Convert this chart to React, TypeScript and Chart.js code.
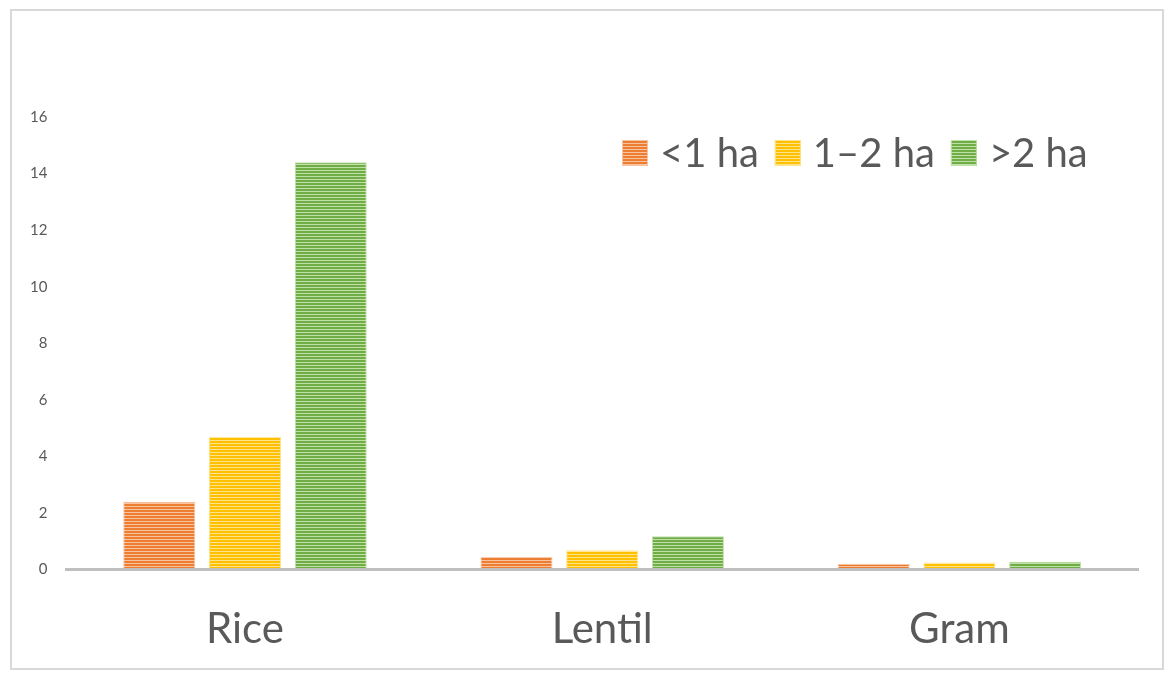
import React, { useEffect, useRef } from "react";
import { Chart, registerables } from "chart.js";

Chart.register(...registerables);

const categories = ["Rice", "Lentil", "Gram"];
const seriesNames = ["<1 ha", "1\u20132 ha", ">2 ha"];
const under1 = [2.4, 0.45, 0.2];
const oneToTwo = [4.7, 0.68, 0.25];
const over2 = [14.4, 1.18, 0.28];
const yTicks = [0, 2, 4, 6, 8, 10, 12, 14, 16];

const darkColors = ["#ED7D31", "#FFC000", "#70AD47"];
const lightColors = ["#F8C3A0", "#FFE38A", "#BFE0A6"];

function makePattern(dark: string, light: string): CanvasPattern | string {
  const c = document.createElement("canvas");
  c.width = 4;
  c.height = 3;
  const ctx = c.getContext("2d");
  if (!ctx) return dark;
  ctx.fillStyle = dark;
  ctx.fillRect(0, 0, 4, 2);
  ctx.fillStyle = light;
  ctx.fillRect(0, 2, 4, 1);
  return ctx.createPattern(c, "repeat") || dark;
}

const FONT = "Lato, 'Open Sans', 'DejaVu Sans', sans-serif";

export default function App() {
  const ref = useRef<HTMLCanvasElement | null>(null);

  useEffect(() => {
    if (!ref.current) return;
    const patterns = darkColors.map((d, i) => makePattern(d, lightColors[i]));
    const values = [under1, oneToTwo, over2];

    const legendPlugin = {
      id: "customLegend",
      afterDraw(chart: any) {
        const ctx = chart.ctx;
        ctx.save();
        ctx.font = `40px ${FONT}`;
        ctx.textBaseline = "middle";
        ctx.textAlign = "left";
        const cy = 153;
        let x = 622;
        const box = 26;
        chart.data.datasets.forEach((ds: any, i: number) => {
          ctx.fillStyle = patterns[i];
          ctx.fillRect(x, cy - box / 2, box, box);
          ctx.strokeStyle = lightColors[i];
          ctx.lineWidth = 1;
          ctx.strokeRect(x + 0.5, cy - box / 2 + 0.5, box - 1, box - 1);
          x += box + 12;
          ctx.fillStyle = "#595959";
          ctx.fillText(ds.label, x, cy + 1);
          x += ctx.measureText(ds.label).width + 16;
        });
        ctx.restore();
      },
    };

    const chart = new Chart(ref.current, {
      type: "bar",
      data: {
        labels: categories,
        datasets: seriesNames.map((name, i) => ({
          label: name,
          data: values[i],
          backgroundColor: patterns[i] as any,
          borderColor: lightColors[i],
          borderWidth: 1,
          categoryPercentage: 0.72,
          barPercentage: 0.84,
        })),
      },
      options: {
        responsive: false,
        animation: false,
        layout: { padding: { top: 117, left: 19, right: 35, bottom: -5 } },
        plugins: {
          legend: { display: false },
          tooltip: { enabled: false },
        },
        scales: {
          x: {
            grid: { display: false },
            border: { display: true, color: "#BFBFBF", width: 3, z: 1 },
            ticks: {
              color: "#595959",
              font: { family: FONT, size: 42 },
              padding: 27,
            },
          },
          y: {
            min: 0,
            max: 16,
            afterBuildTicks: (axis: any) => {
              axis.ticks = yTicks.map((v) => ({ value: v }));
            },
            grid: { display: false },
            border: { display: false },
            ticks: {
              color: "#595959",
              font: { family: FONT, size: 15 },
              padding: 11,
            },
          },
        },
      },
      plugins: [legendPlugin],
    });
    return () => chart.destroy();
  }, []);

  return (
    <div style={{ position: "fixed", left: 0, top: 0, width: 1173, height: 677, background: "#fff" }}>
      <canvas ref={ref} width={1173} height={677} style={{ position: "absolute", left: 0, top: 0 }} />
      <div
        style={{
          position: "absolute",
          left: 10,
          top: 9,
          width: 1150,
          height: 657,
          border: "2px solid #D9D9D9",
          pointerEvents: "none",
        }}
      />
    </div>
  );
}
